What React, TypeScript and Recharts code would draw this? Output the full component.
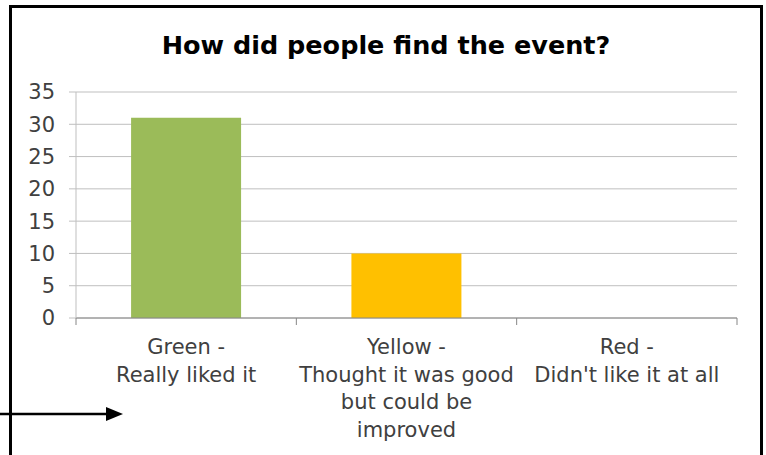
import { BarChart, Bar, XAxis, YAxis, CartesianGrid, Cell } from "recharts"

const categories = [
  "Green -\nReally liked it",
  "Yellow -\nThought it was good\nbut could be\nimproved",
  "Red -\nDidn't like it at all",
]
const responses = [31, 10, 0]
const barColors = ["#9BBB59", "#FFC000", "#C0504D"]
const yTicks = [0, 5, 10, 15, 20, 25, 30, 35]

const data = categories.map((name, i) => ({ name, value: responses[i] }))

const FONT = "'DejaVu Sans', sans-serif"

// Excel-style category axis: tick marks sit on the band boundaries, labels wrap
function CategoryTick(props: any) {
  const { x, y, payload, index, visibleTicksCount } = props
  const half = payload.offset ?? 0
  const lines = String(payload.value).split("\n")
  return (
    <g>
      <line x1={x - half} x2={x - half} y1={y} y2={y + 7} stroke="#868686" />
      {index === visibleTicksCount - 1 && (
        <line x1={x + half} x2={x + half} y1={y} y2={y + 7} stroke="#868686" />
      )}
      {lines.map((line, i) => (
        <text
          key={i}
          x={x}
          y={y + 29 + i * 27.5}
          textAnchor="middle"
          dominantBaseline="central"
          fontSize={21}
          fontFamily={FONT}
          fill="#404040"
        >
          {line}
        </text>
      ))}
    </g>
  )
}

export default function App() {
  return (
    <div
      style={{
        position: "absolute",
        top: 0,
        left: 0,
        width: 766,
        height: 455,
        overflow: "hidden",
        background: "#fff",
      }}
    >
      <div
        style={{
          position: "absolute",
          left: 9,
          top: 5,
          width: 748,
          height: 600,
          border: "3px solid #000",
        }}
      />
      <div
        style={{
          position: "absolute",
          left: 9,
          top: 29,
          width: 754,
          textAlign: "center",
          fontFamily: FONT,
          fontWeight: "bold",
          fontSize: 25.5,
          lineHeight: "32px",
          color: "#000",
        }}
      >
        How did people find the event?
      </div>
      <div style={{ position: "absolute", left: 0, top: 0 }}>
        <BarChart
          width={766}
          height={455}
          data={data}
          margin={{ top: 92, right: 29, bottom: 107, left: 16 }}
          barCategoryGap="25%"
          style={{ fontFamily: FONT }}
        >
          <CartesianGrid vertical={false} stroke="#BFBFBF" />
          <XAxis
            dataKey="name"
            height={30}
            interval={0}
            tickLine={false}
            tickSize={0}
            tickMargin={0}
            axisLine={{ stroke: "#868686" }}
            tick={<CategoryTick />}
          />
          <YAxis
            width={60}
            domain={[0, 35]}
            ticks={yTicks}
            interval={0}
            tickSize={7}
            tickMargin={14}
            tickLine={{ stroke: "#BFBFBF" }}
            axisLine={{ stroke: "#BFBFBF" }}
            tick={{ fontSize: 21, fill: "#404040", fontFamily: FONT }}
          />
          <Bar dataKey="value" isAnimationActive={false}>
            {data.map((d, i) => (
              <Cell key={d.name} fill={barColors[i]} />
            ))}
          </Bar>
        </BarChart>
      </div>
      <svg
        width={766}
        height={455}
        style={{ position: "absolute", left: 0, top: 0, pointerEvents: "none" }}
      >
        <line x1={0} y1={414} x2={108} y2={414} stroke="#000" strokeWidth={2.5} />
        <polygon points="106,407 123,414 106,421" fill="#000" />
      </svg>
    </div>
  )
}
